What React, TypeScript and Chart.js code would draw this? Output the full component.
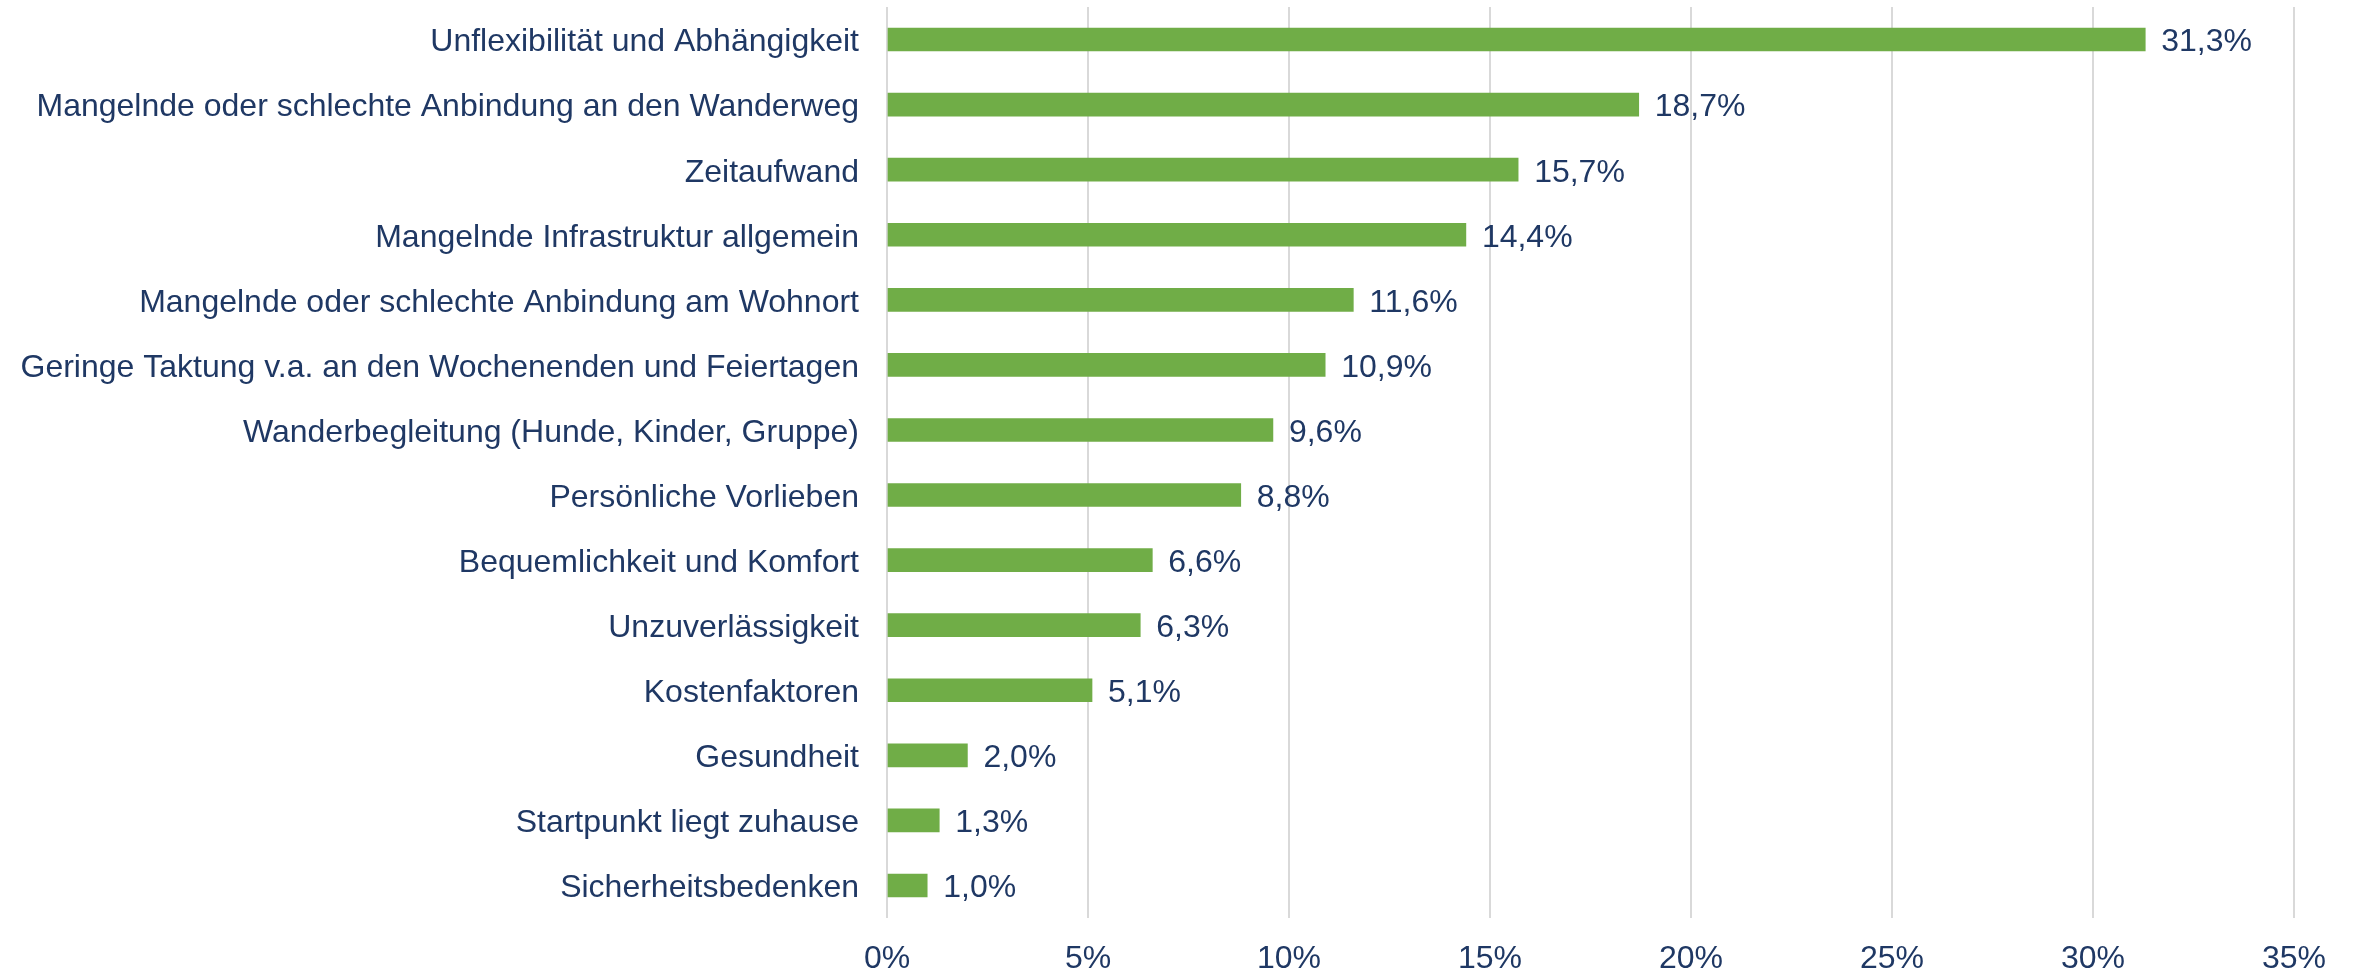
import React, { useEffect, useRef } from "react";
import { Chart, registerables } from "chart.js";

Chart.register(...registerables);

const categories = [
  "Unflexibilität und Abhängigkeit",
  "Mangelnde oder schlechte Anbindung an den Wanderweg",
  "Zeitaufwand",
  "Mangelnde Infrastruktur allgemein",
  "Mangelnde oder schlechte Anbindung am Wohnort",
  "Geringe Taktung v.a. an den Wochenenden und Feiertagen",
  "Wanderbegleitung (Hunde, Kinder, Gruppe)",
  "Persönliche Vorlieben",
  "Bequemlichkeit und Komfort",
  "Unzuverlässigkeit",
  "Kostenfaktoren",
  "Gesundheit",
  "Startpunkt liegt zuhause",
  "Sicherheitsbedenken",
];

const values = [31.3, 18.7, 15.7, 14.4, 11.6, 10.9, 9.6, 8.8, 6.6, 6.3, 5.1, 2.0, 1.3, 1.0];

const xTicks = [0, 5, 10, 15, 20, 25, 30, 35];

const TEXT = "#1F3864";
const FONT = "'Liberation Sans', Arial, sans-serif";

const fmt = (v: number) => v.toFixed(1).replace(".", ",") + "%";

const dataLabels = {
  id: "dataLabels",
  afterDatasetsDraw(chart: any) {
    const ctx = chart.ctx;
    const meta = chart.getDatasetMeta(0);
    ctx.save();
    ctx.font = `32px ${FONT}`;
    ctx.fillStyle = TEXT;
    ctx.textAlign = "left";
    ctx.textBaseline = "middle";
    meta.data.forEach((bar: any, i: number) => {
      ctx.fillText(fmt(values[i]), bar.x + 16, bar.y + 3);
    });
    ctx.restore();
  },
};

export default function App() {
  const ref = useRef<HTMLCanvasElement>(null);
  useEffect(() => {
    document.body.style.margin = "0";
    const chart = new Chart(ref.current!, {
      type: "bar",
      data: {
        labels: categories,
        datasets: [
          {
            data: values,
            backgroundColor: "#70AD47",
            borderWidth: 0,
            barThickness: 23,
          },
        ],
      },
      options: {
        indexAxis: "y",
        animation: false,
        responsive: false,
        devicePixelRatio: 1,
        layout: { padding: { top: 7, right: 60, left: 0, bottom: 0 } },
        plugins: {
          legend: { display: false },
          tooltip: { enabled: false },
        },
        scales: {
          x: {
            min: 0,
            max: 35,
            afterBuildTicks: (scale: any) => {
              scale.ticks = xTicks.map((v) => ({ value: v }));
            },
            afterFit: (scale: any) => {
              scale.height = 53;
              scale.paddingLeft = 0;
              scale.paddingRight = 0;
            },
            grid: { color: "#D9D9D9", lineWidth: 2, drawTicks: false },
            border: { display: false },
            ticks: {
              padding: 22,
              color: TEXT,
              font: { family: FONT, size: 32 },
              callback: (v: any) => v + "%",
              maxRotation: 0,
            },
          },
          y: {
            afterFit: (scale: any) => {
              scale.width = 887;
              scale.paddingTop = 0;
              scale.paddingBottom = 0;
            },
            grid: { display: false, drawTicks: false },
            border: { display: false },
            ticks: {
              padding: 28,
              labelOffset: 3,
              color: TEXT,
              font: { family: FONT, size: 32 },
              autoSkip: false,
            },
          },
        },
      },
      plugins: [dataLabels],
    });
    return () => chart.destroy();
  }, []);
  return <canvas ref={ref} width={2354} height={971} style={{ display: "block" }} />;
}
